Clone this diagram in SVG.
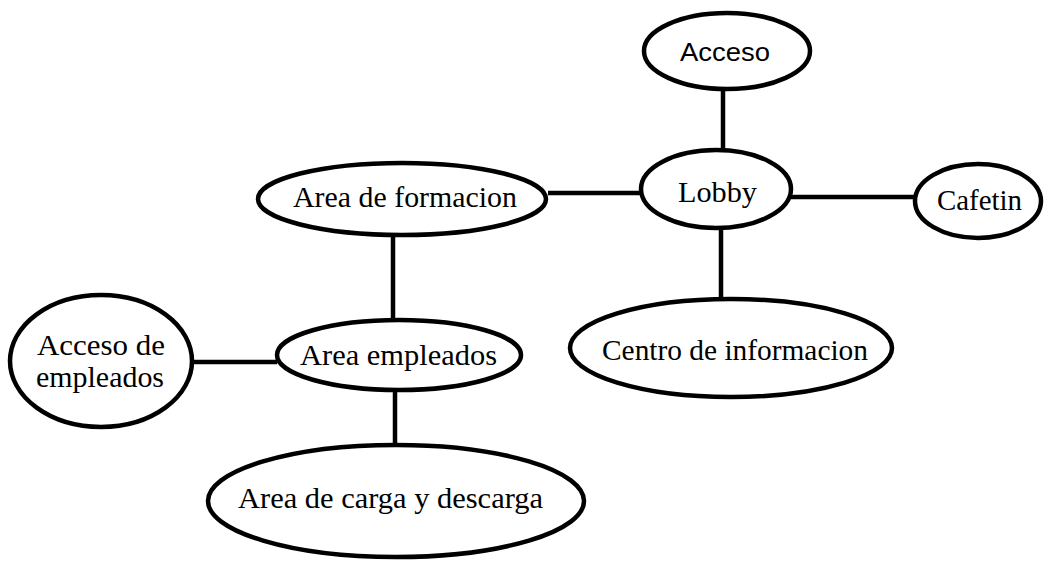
<svg xmlns="http://www.w3.org/2000/svg" width="1044" height="561" viewBox="0 0 1044 561">
<style>
.n{fill:#fff;stroke:#000;stroke-width:4.5}
.c line{stroke:#000;stroke-width:4.5}
.t{font-family:"Liberation Serif","Times New Roman",serif;font-size:29px;fill:#000;text-anchor:middle}
.s{font-family:"Liberation Sans",Arial,sans-serif;font-size:26px;fill:#000;text-anchor:middle}
</style>
<rect width="1044" height="561" fill="#fff"/>
<g id="connectors" class="c">
<line x1="723" y1="89" x2="723" y2="151"/>
<line x1="548" y1="193" x2="641" y2="193"/>
<line x1="791" y1="197" x2="915" y2="197"/>
<line x1="721" y1="228" x2="721" y2="299"/>
<line x1="393" y1="235" x2="393" y2="320"/>
<line x1="193" y1="362" x2="277" y2="362"/>
<line x1="395" y1="390" x2="395" y2="446"/>
</g>
<g id="acceso"><ellipse class="n" cx="727" cy="51" rx="83" ry="38"/><text class="s" x="725" y="61" textLength="90" lengthAdjust="spacingAndGlyphs">Acceso</text></g>
<g id="lobby"><ellipse class="n" cx="716" cy="189" rx="75" ry="39"/><text class="t" x="717.5" y="202" textLength="79" lengthAdjust="spacingAndGlyphs">Lobby</text></g>
<g id="cafetin"><ellipse class="n" cx="978" cy="201" rx="63" ry="37"/><text class="t" x="979.5" y="210" textLength="85" lengthAdjust="spacingAndGlyphs">Cafetin</text></g>
<g id="area-formacion"><ellipse class="n" cx="402" cy="199" rx="144" ry="36"/><text class="t" x="405" y="207" textLength="224" lengthAdjust="spacingAndGlyphs">Area de formacion</text></g>
<g id="area-empleados"><ellipse class="n" cx="399" cy="355" rx="122" ry="35"/><text class="t" x="398.5" y="365" textLength="197" lengthAdjust="spacingAndGlyphs">Area empleados</text></g>
<g id="acceso-empleados"><ellipse class="n" cx="101" cy="361" rx="91" ry="66"/><text class="t" x="101" y="355" textLength="128" lengthAdjust="spacingAndGlyphs">Acceso de</text><text class="t" x="100" y="387" textLength="128" lengthAdjust="spacingAndGlyphs">empleados</text></g>
<g id="centro-informacion"><ellipse class="n" cx="731" cy="348" rx="161" ry="49"/><text class="t" x="735" y="360" textLength="266" lengthAdjust="spacingAndGlyphs">Centro de informacion</text></g>
<g id="area-carga"><ellipse class="n" cx="396" cy="501" rx="188" ry="56"/><text class="t" x="390.5" y="508" textLength="305" lengthAdjust="spacingAndGlyphs">Area de carga y descarga</text></g>
</svg>
